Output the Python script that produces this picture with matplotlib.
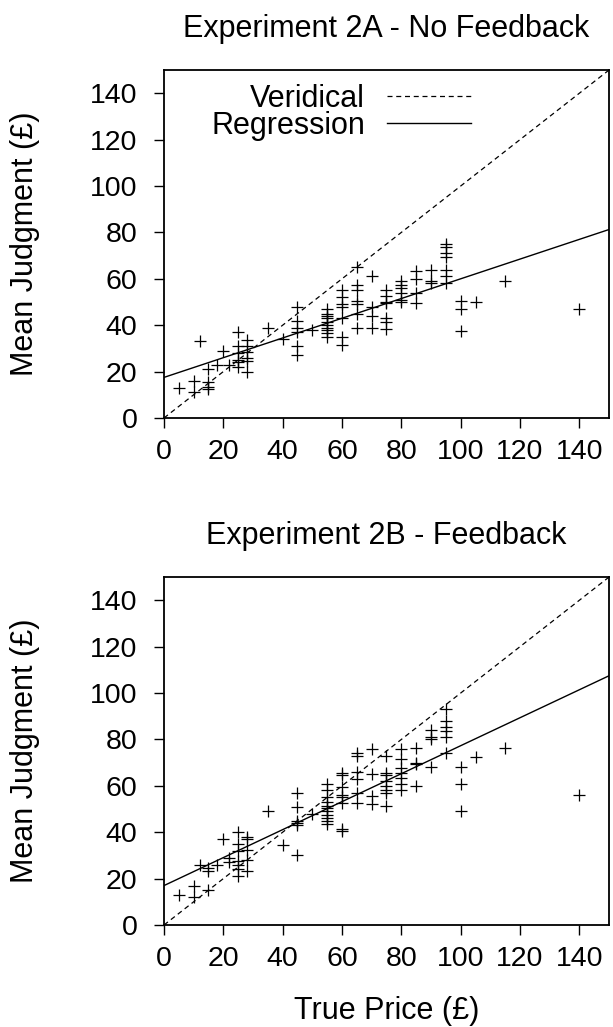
import matplotlib
matplotlib.use("Agg")
import matplotlib.pyplot as plt
import numpy as np

plt.rcParams['font.family'] = ['Liberation Sans', 'DejaVu Sans']

# Experiment 2A - No Feedback (true price, mean judgment)
prix_a = [5, 10, 10, 12, 15, 15, 15, 15, 18, 20, 22,
          25, 25, 25, 25, 25, 25, 28, 28, 28, 28, 28, 28,
          35, 40, 45, 45, 45, 45, 45, 45, 50,
          55, 55, 55, 55, 55, 55, 55, 55, 55, 55,
          60, 60, 60, 60, 60, 60, 60,
          65, 65, 65, 65, 65, 65, 65,
          70, 70, 70, 70,
          75, 75, 75, 75, 75, 75, 75,
          80, 80, 80, 80, 80, 80,
          85, 85, 85, 85,
          90, 90, 90,
          95, 95, 95, 95, 95, 95, 95,
          100, 100, 100, 105, 115, 140]
dom_a = [13, 16, 11, 33, 21, 15.5, 13.5, 12.5, 23, 29, 23,
         37, 31, 28, 25, 24, 22, 33.5, 31, 28.5, 26, 24.5, 20,
         39, 34, 48, 42, 39, 37, 31, 27, 38,
         47, 45, 44, 43, 41.5, 40, 39, 38, 36.5, 35,
         55, 52, 49, 48, 43, 35, 31.5,
         65, 57.5, 55, 50.5, 49, 45, 39,
         61, 48, 44, 39,
         55, 52.5, 50, 49.5, 43, 41.5, 38.5,
         59, 57.5, 56, 54, 51, 50,
         63.5, 60, 54, 49.5,
         64, 59, 58,
         75, 73.5, 71, 69.5, 64, 61, 58,
         50.5, 47, 37.5, 50, 59, 47]

# Experiment 2B - Feedback
prix_b = [5, 10, 10, 12, 15, 15, 15, 18, 20, 22, 22,
          25, 25, 25, 25, 25, 25, 25, 28, 28, 28, 28, 28,
          35, 40, 45, 45, 45, 45, 45, 45, 50,
          55, 55, 55, 55, 55, 55, 55, 55, 55, 55, 55,
          60, 60, 60, 60, 60, 60, 60, 60,
          65, 65, 65, 65, 65, 65,
          70, 70, 70, 70,
          75, 75, 75, 75, 75, 75, 75, 75,
          80, 80, 80, 80, 80, 80, 80,
          85, 85, 85, 85,
          90, 90, 90, 90,
          95, 95, 95, 95, 95, 95,
          100, 100, 100, 105, 115, 140]
dom_b = [13, 17, 12, 26, 24.5, 23.5, 15, 26, 37, 29, 27,
         40, 35, 32, 27.5, 26, 24, 21, 38, 37, 32.5, 28, 23.5,
         49, 34.5, 57, 51, 45, 44, 43, 30, 48,
         61, 58, 55, 53, 51.5, 50.5, 49, 47.5, 46, 45, 43.5,
         65.5, 64.5, 59.5, 56, 55, 52.5, 41.4, 40.6,
         74, 73, 66, 63, 57, 52.5,
         76, 65, 55.5, 52,
         73, 65.5, 64.5, 62, 60, 58, 57, 51.5,
         76, 71.5, 67.5, 65.5, 63.5, 61, 58,
         76.5, 70, 69.5, 60,
         84, 81, 80, 68,
         93, 88, 85.5, 83.5, 81, 74,
         68, 61, 49, 72.5, 76.5, 56]

# regression lines (intercept, slope)
reg_a = (17.5, 0.425)
reg_b = (17.0, 0.603)

titres = ["Experiment 2A - No Feedback", "Experiment 2B - Feedback"]
ticks = [0, 20, 40, 60, 80, 100, 120, 140]

fig = plt.figure(figsize=(6.13, 10.27), dpi=100)
ax1 = fig.add_axes([0.2675, 0.593, 0.726, 0.3388])
ax2 = fig.add_axes([0.2675, 0.0993, 0.726, 0.3388])

ligne = np.array([0, 150])
for ax, px, dm, reg, titre in [(ax1, prix_a, dom_a, reg_a, titres[0]),
                               (ax2, prix_b, dom_b, reg_b, titres[1])]:
    ax.plot(ligne, ligne, color='black', lw=0.9, ls=(0, (4, 3)), label='Veridical')
    ax.plot(ligne, reg[0] + reg[1] * ligne, color='black', lw=1.0, label='Regression')
    ax.plot(px, dm, ls='none', marker='+', ms=8.5, mew=0.9, color='black')
    ax.set_xlim(0, 150)
    ax.set_ylim(0, 150)
    ax.set_xticks(ticks)
    ax.set_yticks(ticks)
    ax.tick_params(labelsize=20.5, direction='out', length=7, width=1,
                   top=False, right=False)
    ax.tick_params(axis='y', pad=12)
    ax.tick_params(axis='x', pad=8)
    for sp in ax.spines.values():
        sp.set_linewidth(1.3)
    ax.set_title(titre, fontsize=22, pad=24)
    ax.set_ylabel("Mean Judgment (£)", fontsize=22)
    ax.yaxis.set_label_coords(-0.279, 0.5)

ax1.legend(loc='upper left', bbox_to_anchor=(0.075, 1.0), frameon=False,
           markerfirst=False, fontsize=22, handlelength=2.75,
           handletextpad=0.72, labelspacing=-0.1, borderaxespad=0.05)

ax2.set_xlabel("True Price (£)", fontsize=22)
ax2.xaxis.set_label_coords(0.5, -0.205)

fig.savefig("out.png", dpi=100)
